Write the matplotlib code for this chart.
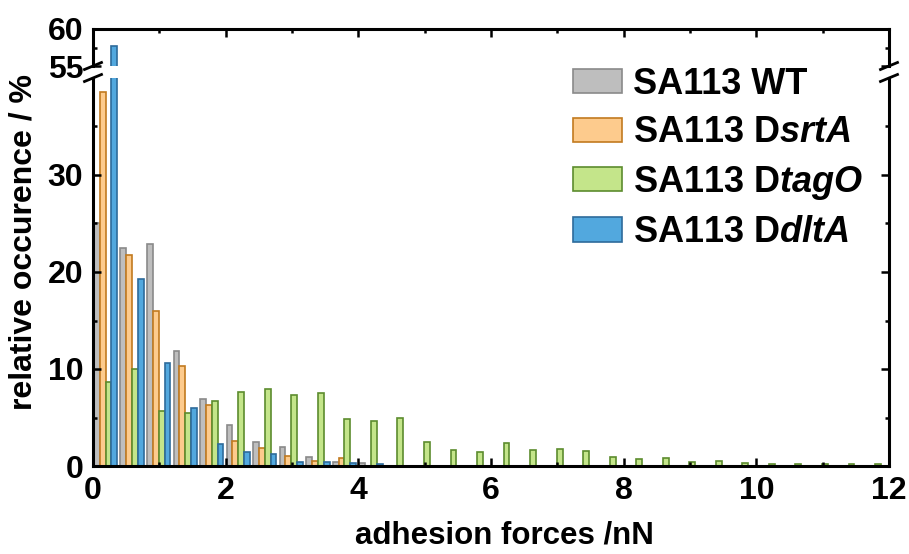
import numpy as np
import matplotlib
matplotlib.use('Agg')
import matplotlib.pyplot as plt
from matplotlib.lines import Line2D
from matplotlib.patches import Patch

plt.rcParams['font.family'] = ['Liberation Sans', 'DejaVu Sans']
plt.rcParams['font.weight'] = 'bold'
plt.rcParams['mathtext.fontset'] = 'custom'
plt.rcParams['mathtext.it'] = 'Liberation Sans:italic:bold'
plt.rcParams['mathtext.rm'] = 'Liberation Sans:bold'

# histogram bins of 0.4 nN (left edges)
bin_left = np.arange(0, 12, 0.4)

wt = [25.0, 22.5, 22.9, 11.85, 6.93, 4.2, 2.5, 1.98, 0.92, 0.38,
      0.28, 0, 0, 0, 0, 0, 0, 0, 0, 0,
      0, 0, 0, 0, 0, 0, 0, 0, 0, 0]
srtA = [38.6, 21.8, 15.95, 10.3, 6.3, 2.56, 1.9, 1.02, 0.48, 0.78,
        0, 0, 0, 0, 0, 0, 0, 0, 0, 0,
        0, 0, 0, 0, 0, 0, 0, 0, 0, 0]
tagO = [8.7, 10.0, 5.67, 5.5, 6.7, 7.65, 7.9, 7.3, 7.55, 4.88,
        4.68, 4.95, 2.46, 1.7, 1.47, 2.32, 1.6, 1.78, 1.5, 0.97,
        0.77, 0.84, 0.39, 0.56, 0.29, 0.22, 0.22, 0.2, 0.2, 0.2]
dltA = [57.7, 19.3, 10.6, 6.0, 2.3, 1.4, 1.2, 0.38, 0.38, 0.31,
        0.2, 0, 0, 0, 0, 0, 0, 0, 0, 0,
        0, 0, 0, 0, 0, 0, 0, 0, 0, 0]

labels = ['SA113 WT', 'SA113 D$\\mathit{srtA}$', 'SA113 D$\\mathit{tagO}$', 'SA113 D$\\mathit{dltA}$']
fills = ['#BEBEBE', '#FDCB8D', '#C4E58A', '#52A8DE']
edges = ['#8A8A8A', '#C27A1F', '#5C8C2E', '#2D6B9B']
series = [wt, srtA, tagO, dltA]

W, H = 909, 554
fig = plt.figure(figsize=(W / 100, H / 100), dpi=100)

def fx(px):
    return px / W

def fy(py):
    return 1 - py / H

x0, x1 = 93, 889
low_top, low_bot = 78, 466
up_top, up_bot = 29, 66

ax = fig.add_axes([fx(x0), fy(low_bot), fx(x1) - fx(x0), fy(low_top) - fy(low_bot)])
axu = fig.add_axes([fx(x0), fy(up_bot), fx(x1) - fx(x0), fy(up_top) - fy(up_bot)], sharex=ax)

bw = 0.088
for a in (ax, axu):
    for i, (vals, fc, ec) in enumerate(zip(series, fills, edges)):
        a.bar(bin_left + 0.19 + (i - 1.5) * bw, vals, width=bw, color=fc,
              edgecolor=ec, linewidth=1.2, align='center')

ax.set_xlim(0, 12)
ax.set_ylim(0, 40)
axu.set_ylim(55, 60)

ax.set_xticks([0, 2, 4, 6, 8, 10, 12])
ax.set_xticks(np.arange(1, 12, 2), minor=True)
ax.set_yticks([0, 10, 20, 30])
ax.set_yticks([5, 15, 25, 35], minor=True)
axu.set_yticks([55, 60])
axu.set_yticks([57.5], minor=True)

for a in (ax, axu):
    for s in a.spines.values():
        s.set_linewidth(2.2)
    a.tick_params(which='major', direction='in', top=True, right=True,
                  length=6, width=1.8, labelsize=23, pad=7)
    a.tick_params(which='minor', direction='in', top=True, right=True,
                  length=3, width=1.8)
ax.spines['top'].set_visible(False)
axu.spines['bottom'].set_visible(False)
ax.tick_params(top=False, which='both')
axu.tick_params(bottom=False, labelbottom=False, which='both')

# break marks on left and right spines
for xb in (x0, x1):
    for yb in (up_bot, low_top):
        fig.add_artist(Line2D([fx(xb - 8.5), fx(xb + 8.5)], [fy(yb + 3.5), fy(yb - 3.5)],
                              transform=fig.transFigure, color='black', lw=2.0))

fig.text(fx(24), fy(242), 'relative occurence / %', rotation=90, fontsize=23,
         ha='center', va='center')
fig.text(fx(504), fy(536), 'adhesion forces /nN', fontsize=22.5, ha='center', va='center')

handles = [Patch(facecolor=fc, edgecolor=ec, linewidth=1.2) for fc, ec in zip(fills, edges)]
fig.legend(handles, labels, loc='upper left', bbox_to_anchor=(fx(555), fy(49)),
           frameon=False, fontsize=26, handlelength=1.35, handleheight=0.65,
           handletextpad=0.3, labelspacing=0.37, borderpad=0)

fig.savefig('out.png', dpi=100)
